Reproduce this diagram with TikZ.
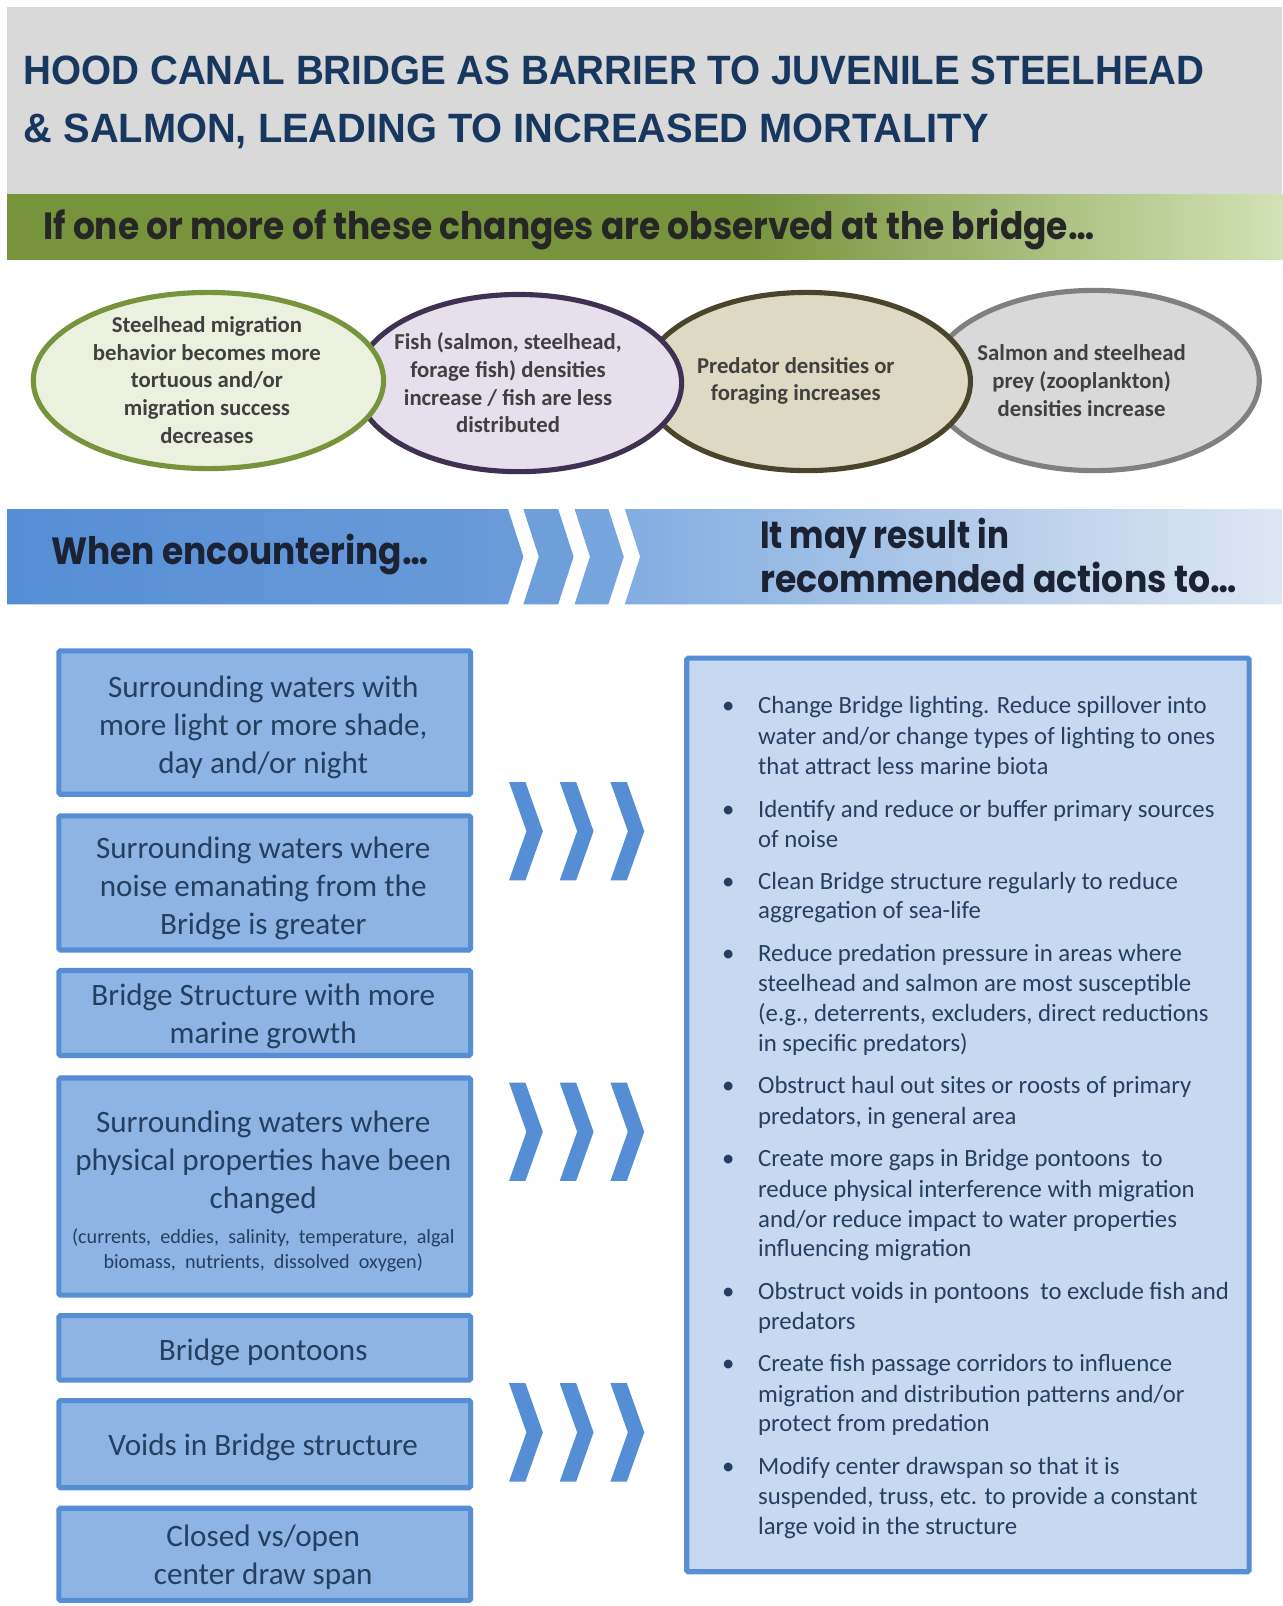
\documentclass[tikz,border=0pt]{standalone}
\usepackage{fontspec}
\setmainfont{Carlito}
\newfontfamily\titlefont{Liberation Sans}
\newfontfamily\popfont{Poppins}
\usetikzlibrary{shapes.geometric}
\definecolor{hdrgray}{HTML}{D9D9D9}
\definecolor{titleblue}{HTML}{17375E}
\definecolor{olivebar}{HTML}{77933C}
\definecolor{olivelight}{HTML}{D2E2B5}
\definecolor{bartext}{HTML}{262626}
\definecolor{eAfill}{HTML}{EBF1DE}\definecolor{eAline}{HTML}{77933C}
\definecolor{eBfill}{HTML}{E6E0EC}\definecolor{eBline}{HTML}{3F3151}
\definecolor{eCfill}{HTML}{DDD9C3}\definecolor{eCline}{HTML}{4A452A}
\definecolor{eDfill}{HTML}{D9D9D9}\definecolor{eDline}{HTML}{808080}
\definecolor{ellgray}{HTML}{404040}
\definecolor{bannerA}{HTML}{558ED5}
\definecolor{bannerB}{HTML}{6A9BD9}
\definecolor{stripA}{HTML}{6F9FDB}
\definecolor{stripB}{HTML}{77A5DD}
\definecolor{bannerC}{HTML}{82ADE0}
\definecolor{bannerD}{HTML}{DEE7F3}
\definecolor{bannertext}{HTML}{1A2233}
\definecolor{boxfill}{HTML}{8EB4E3}
\definecolor{boxedge}{HTML}{558ED5}
\definecolor{rfill}{HTML}{C6D9F1}
\definecolor{boxtext}{HTML}{243F60}
\definecolor{chev}{HTML}{558ED5}
\pgfdeclarehorizontalshading{greenbar}{100bp}{color(0bp)=(olivebar); color(53.9bp)=(olivebar); color(75bp)=(olivelight); color(100bp)=(olivelight)}
\tikzset{
  ell/.style={ellipse, line width=5pt, inner sep=0},
  etxt/.style={align=center, inner sep=0, text=ellgray, font=\bfseries\fontsize{22.2}{27}\selectfont},
  lbox/.style={draw=boxedge, fill=boxfill, line width=5pt, rounded corners=1.5pt, inner sep=0, minimum width=402pt},
  ltxt/.style={align=center, inner sep=0, text=boxtext, font=\fontsize{30.4}{37}\selectfont},
  stxt/.style={align=center, inner sep=0, text=boxtext, font=\fontsize{19.7}{24}\selectfont},
  rtxt/.style={anchor=base west, inner sep=0, text=boxtext, font=\fontsize{24.2}{29.5}\selectfont},
  bul/.style={anchor=base, inner sep=0, text=boxtext, font=\fontsize{24.2}{29.5}\selectfont},
  wide/.style={anchor=base west, inner sep=0}
}
\newcommand\chevron[2]{\fill[chev] (#1,#2-48) -- (#1+16,#2-48) -- (#1+33,#2) -- (#1+16,#2+48) -- (#1,#2+48) -- (#1+17,#2) -- cycle;}
\begin{document}
\begin{tikzpicture}[x=1pt,y=-1pt]
\useasboundingbox (0,0) rectangle (1252,1568);
\fill[white] (0,0) rectangle (1252,1568);
% header
\fill[hdrgray] (7,7) rectangle (1252,190);
\node[wide, text=titleblue] (title1) at (23,82.5) {\resizebox{1153pt}{\height}{\titlefont\bfseries\fontsize{40}{40}\selectfont HOOD CANAL BRIDGE AS BARRIER TO JUVENILE STEELHEAD}};
\node[wide, text=titleblue] (title2) at (23,139.5) {\resizebox{942pt}{\height}{\titlefont\bfseries\fontsize{40}{40}\selectfont \& SALMON, LEADING TO INCREASED MORTALITY}};
% green bar
\shade[shading=greenbar] (7,190) rectangle (1252,253);
\node[wide, text=bartext] (ifone) at (42,234) {\resizebox{1026pt}{\height}{\popfont\bfseries\fontsize{37}{37}\selectfont If one or more of these changes are observed at the bridge…}};
% ellipses
\node[ell, draw=eDline, fill=eDfill, minimum width=322pt, minimum height=176pt] (e4) at (1068.5,371.5) {};
\node[ell, draw=eCline, fill=eCfill, minimum width=320pt, minimum height=174pt] (e3) at (787.5,372.5) {};
\node[ell, draw=eBline, fill=eBfill, minimum width=318pt, minimum height=173pt] (e2) at (506.5,374) {};
\node[ell, draw=eAline, fill=eAfill, minimum width=342pt, minimum height=172pt] (e1) at (203.5,371.5) {};
\node[etxt] (e1t) at (202,371) {Steelhead migration\\behavior becomes more\\tortuous and/or\\migration success\\decreases};
\node[etxt] (e2t) at (496,374) {Fish (salmon, steelhead,\\forage fish) densities\\increase / fish are less\\distributed};
\node[etxt] (e3t) at (777,372) {Predator densities or\\foraging increases};
\node[etxt] (e4t) at (1056,371.5) {Salmon and steelhead\\prey (zooplankton)\\densities increase};
% blue banner
\shade[left color=bannerA, right color=bannerB] (7,497) -- (496,497) -- (511,543.5) -- (496,590) -- (7,590) -- cycle;
\fill[stripA] (511,497) -- (545,497) -- (560,543.5) -- (545,590) -- (511,590) -- (526,543.5) -- cycle;
\fill[stripB] (561,497) -- (594,497) -- (609,543.5) -- (594,590) -- (561,590) -- (576,543.5) -- cycle;
\shade[left color=bannerC, right color=bannerD] (610,497) -- (1252,497) -- (1252,590) -- (610,590) -- (625,543.5) -- cycle;
\node[wide, text=bannertext] (when) at (50,551.5) {\resizebox{368pt}{\height}{\popfont\bfseries\fontsize{37}{37}\selectfont When encountering…}};
\node[wide, text=bannertext] (may1) at (742,536) {\resizebox{243pt}{\height}{\popfont\bfseries\fontsize{37}{37}\selectfont It may result in}};
\node[wide, text=bannertext] (may2) at (742,578) {\resizebox{465pt}{\height}{\popfont\bfseries\fontsize{37}{37}\selectfont recommended actions to…}};
% left boxes
\node[lbox, minimum height=140pt] (b1) at (258.5,705.5) {};
\node[lbox, minimum height=131pt] (b2) at (258.5,862) {};
\node[lbox, minimum height=83pt] (b3) at (258.5,989) {};
\node[lbox, minimum height=212pt] (b4) at (258.5,1158.5) {};
\node[lbox, minimum height=63pt] (b5) at (258.5,1316) {};
\node[lbox, minimum height=85pt] (b6) at (258.5,1410) {};
\node[lbox, minimum height=90pt] (b7) at (258.5,1517.5) {};
\node[ltxt] (b1t) at (257,710.5) {Surrounding waters with\\more light or more shade,\\day and/or night};
\node[ltxt] (b2t) at (257,867.5) {Surrounding waters where\\noise emanating from the\\Bridge is greater};
\node[ltxt] (b3t) at (257,992) {Bridge Structure with more\\marine growth};
\node[ltxt] (b4t) at (257,1134.5) {Surrounding waters where\\physical properties have been\\changed};
\node[stxt] (b4s) at (257,1221) {(currents,\ \ eddies,\ \ salinity,\ \ temperature,\ \ algal\\biomass,\ \ nutrients,\ \ dissolved\ \ oxygen)};
\node[ltxt] (b5t) at (257,1320) {Bridge pontoons};
\node[ltxt] (b6t) at (257,1413) {Voids in Bridge structure};
\node[ltxt] (b7t) at (257,1520.5) {Closed vs/open\\center draw span};
% chevrons
\foreach \c in {811.5,1105,1398.5}{
  \chevron{497}{\c}
  \chevron{546.5}{\c}
  \chevron{596}{\c}
}
% right box
\node[draw=boxedge, fill=rfill, line width=5pt, rounded corners=1.5pt, inner sep=0, minimum width=549pt, minimum height=892pt] (rbox) at (945,1088.5) {};
\node[bul] (k1) at (711,697) {•};
\node[rtxt] (r1) at (740,697) {Change Bridge lighting. Reduce spillover into};
\node[rtxt] (r2) at (740,726.5) {water and/or change types\ of lighting to ones};
\node[rtxt] (r3) at (740,756) {that attract less marine biota};
\node[bul] (k2) at (711,798) {•};
\node[rtxt] (r4) at (740,798) {Identify and reduce or buffer primary sources};
\node[rtxt] (r5) at (740,827) {of noise};
\node[bul] (k3) at (711,868) {•};
\node[rtxt] (r6) at (740,868) {Clean Bridge structure regularly to reduce};
\node[rtxt] (r7) at (740,897) {aggregation of sea-life};
\node[bul] (k4) at (711,939) {•};
\node[rtxt] (r8) at (740,939) {Reduce predation pressure in areas where};
\node[rtxt] (r9) at (740,968) {steelhead and salmon are most susceptible};
\node[rtxt] (r10) at (740,997.5) {(e.g., deterrents, excluders, direct reductions};
\node[rtxt] (r11) at (740,1027) {in specific predators)};
\node[bul] (k5) at (711,1068) {•};
\node[rtxt] (r12) at (740,1068) {Obstruct haul out\ sites or roosts\ of primary};
\node[rtxt] (r13) at (740,1098) {predators, in general area};
\node[bul] (k6) at (711,1139) {•};
\node[rtxt] (r14) at (740,1139) {Create more gaps in Bridge pontoons\ \ to};
\node[rtxt] (r15) at (740,1169) {reduce physical\ interference with migration};
\node[rtxt] (r16) at (740,1198) {and/or reduce impact to water properties};
\node[rtxt] (r17) at (740,1226.5) {influencing migration};
\node[bul] (k7) at (711,1269) {•};
\node[rtxt] (r18) at (740,1269) {Obstruct voids\ in pontoons\ \ to exclude fish and};
\node[rtxt] (r19) at (740,1298) {predators};
\node[bul] (k8) at (711,1339) {•};
\node[rtxt] (r20) at (740,1339) {Create fish passage corridors to\ influence};
\node[rtxt] (r21) at (740,1369) {migration and distribution\ patterns and/or};
\node[rtxt] (r22) at (740,1398) {protect from predation};
\node[bul] (k9) at (711,1440) {•};
\node[rtxt] (r23) at (740,1440) {Modify center drawspan so\ that it is};
\node[rtxt] (r24) at (740,1469) {suspended,\ truss, etc. to provide a constant};
\node[rtxt] (r25) at (740,1498) {large void in the\ structure};
\end{tikzpicture}
\end{document}
